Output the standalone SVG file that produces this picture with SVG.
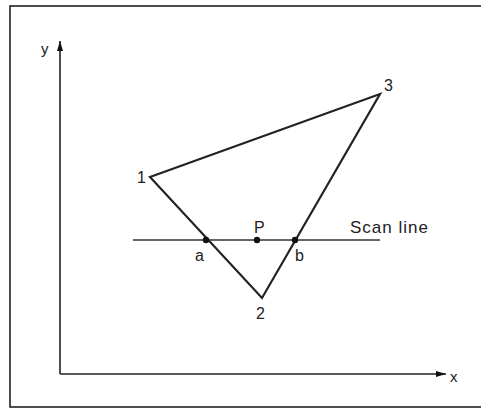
<svg xmlns="http://www.w3.org/2000/svg" width="481" height="411" viewBox="0 0 481 411">
<style>
text{font-family:"Liberation Sans",Arial,sans-serif;fill:#222;}
.lbl{font-size:16px;}
.tri{fill:none;stroke:#222;stroke-width:2.2;stroke-linejoin:miter;}
.axis{stroke:#222;stroke-width:1.6;fill:none;}
.scan{stroke:#333;stroke-width:1.3;}
.dot{fill:#111;}
</style>
<defs>
<marker id="arr" viewBox="0 0 10 6" refX="10" refY="3" markerWidth="10" markerHeight="6" markerUnits="userSpaceOnUse" orient="auto">
<path d="M0,0 L10,3 L0,6 Z" fill="#111"/>
</marker>
</defs>
<rect x="10" y="6" width="475" height="401" fill="#fff" stroke="#222" stroke-width="1.6"/>
<g id="connectors">
<line class="axis" x1="60" y1="374" x2="60" y2="41" marker-end="url(#arr)"/>
<line class="axis" x1="60" y1="374" x2="446" y2="374" marker-end="url(#arr)"/>
<polygon class="tri" points="150,177 380,94 262,298"/>
<line class="scan" x1="133" y1="240" x2="380" y2="240"/>
</g>
<g id="axis-labels">
<text x="41" y="54" style="font-size:15px">y</text>
<text x="450" y="382" style="font-size:15px">x</text>
</g>
<g id="vertex-1"><text class="lbl" x="137" y="183">1</text></g>
<g id="vertex-2"><text class="lbl" x="256" y="319">2</text></g>
<g id="vertex-3"><text class="lbl" x="384" y="91">3</text></g>
<g id="point-a"><circle class="dot" cx="206" cy="240" r="3.2"/><text class="lbl" x="195" y="261">a</text></g>
<g id="point-P"><circle class="dot" cx="257" cy="240" r="3.2"/><text class="lbl" x="254" y="233">P</text></g>
<g id="point-b"><circle class="dot" cx="295" cy="240" r="3.2"/><text class="lbl" x="295" y="261">b</text></g>
<g id="scan-label"><text x="350" y="233" style="font-size:17px" textLength="78">Scan line</text></g>
</svg>
